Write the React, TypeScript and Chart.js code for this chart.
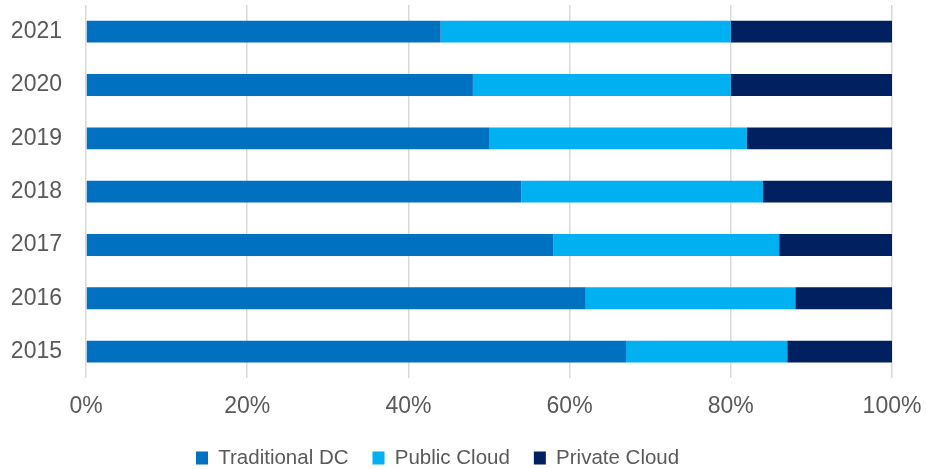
import React, { useEffect, useRef } from "react";
import { Chart, registerables } from "chart.js";

Chart.register(...registerables);

const years = ["2015", "2016", "2017", "2018", "2019", "2020", "2021"];
const traditionalDC = [67, 62, 58, 54, 50, 48, 44];
const publicCloud = [20, 26, 28, 30, 32, 32, 36];
const privateCloud = [13, 12, 14, 16, 18, 20, 20];
const xTicks = [0, 20, 40, 60, 80, 100];

const LEGEND_PAD = 24;

export default function App() {
  const ref = useRef<HTMLCanvasElement | null>(null);
  useEffect(() => {
    document.body.style.margin = "0";
    const ctx = ref.current!;
    const family = "'Liberation Sans', Arial, sans-serif";
    const tickFont = { family, size: 23 };
    const legendFont = { family, size: 20.5 };

    const legendPlace = {
      id: "legendPlace",
      afterLayout(chart: any) {
        const L = chart.legend;
        if (!L) return;
        const h = L.height;
        L.left = 196 - LEGEND_PAD;
        L.right = 926;
        L.top = 447.75 - LEGEND_PAD;
        L.bottom = L.top + h;
      },
    };

    const chart = new Chart(ctx, {
      type: "bar",
      data: {
        labels: years,
        datasets: [
          { label: "Traditional DC", data: traditionalDC, backgroundColor: "#0070C0" },
          { label: "Public Cloud", data: publicCloud, backgroundColor: "#00B0F0" },
          { label: "Private Cloud", data: privateCloud, backgroundColor: "#002060" },
        ],
      },
      options: {
        indexAxis: "y",
        animation: false,
        responsive: false,
        maintainAspectRatio: false,
        layout: { padding: 0 },
        datasets: { bar: { barPercentage: 0.41, categoryPercentage: 1 } },
        scales: {
          x: {
            stacked: true,
            min: 0,
            max: 100,
            afterBuildTicks: (s: any) => {
              s.ticks = xTicks.map((v) => ({ value: v }));
            },
            afterFit: (s: any) => {
              s.height = 36.2;
              s.paddingLeft = 0;
              s.paddingRight = 34;
            },
            ticks: { color: "#595959", font: tickFont, padding: 15, callback: (v: any) => v + "%" },
            grid: { color: "#d9d9d9", lineWidth: 1.5, drawTicks: false },
            border: { display: false },
          },
          y: {
            stacked: true,
            reverse: true,
            afterFit: (s: any) => {
              s.width = 86;
              s.paddingTop = 5;
              s.paddingBottom = 0;
            },
            ticks: { color: "#595959", font: tickFont, padding: 24 },
            grid: { display: false, drawTicks: false },
            border: { display: false },
          },
        },
        plugins: {
          legend: {
            position: "bottom",
            align: "start",
            labels: { boxWidth: 12, boxHeight: 13, color: "#595959", font: legendFont, padding: LEGEND_PAD },
          },
          tooltip: { enabled: false },
        },
      },
      plugins: [legendPlace],
    });
    return () => chart.destroy();
  }, []);
  return (
    <div style={{ width: 926, height: 469 }}>
      <canvas ref={ref} width={926} height={469} />
    </div>
  );
}
